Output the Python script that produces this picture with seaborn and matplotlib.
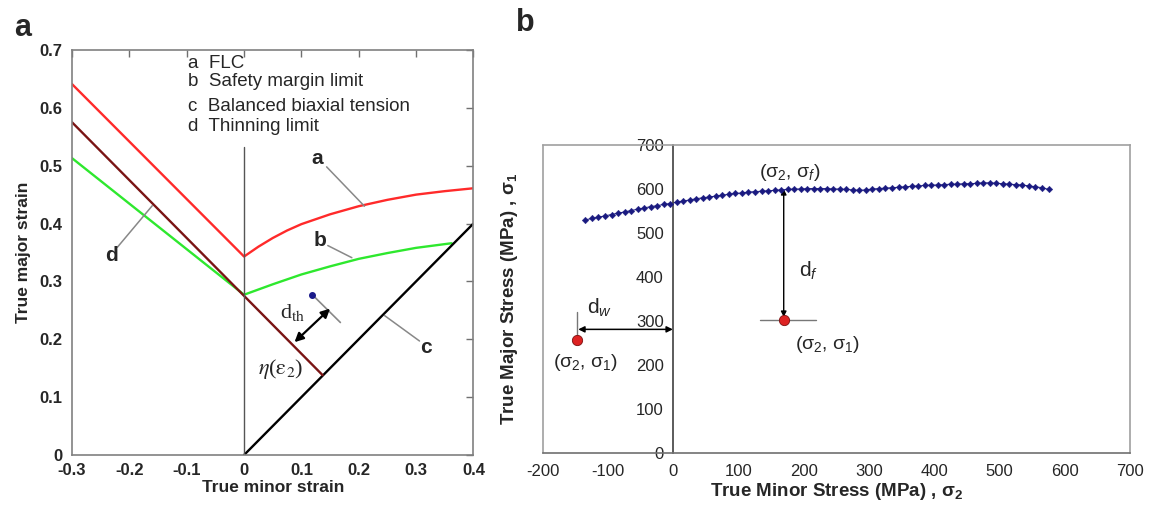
import matplotlib
matplotlib.use("Agg")
import matplotlib.pyplot as plt
import seaborn as sns
import pandas as pd

# ---- panel a: forming limit curves ----
flc_x = [-0.3, 0.0, 0.025, 0.05, 0.075, 0.1, 0.15, 0.2, 0.25, 0.3, 0.35, 0.4]
flc_y = [0.641, 0.343, 0.360, 0.375, 0.388, 0.399, 0.416, 0.430, 0.441, 0.450, 0.456, 0.461]

safety_x = [-0.3, 0.0, 0.05, 0.1, 0.15, 0.2, 0.25, 0.3, 0.362]
safety_y = [0.513, 0.277, 0.295, 0.312, 0.326, 0.339, 0.349, 0.358, 0.366]

biaxial_x = [0.0, 0.4]
biaxial_y = [0.0, 0.4]

thin_x = [-0.3, 0.0, 0.137]
thin_y = [0.575, 0.275, 0.138]

point_a = (0.119, 0.277)

legend_lines = ["a  FLC", "b  Safety margin limit",
                "c  Balanced biaxial tension", "d  Thinning limit"]
legend_y = [0.676, 0.645, 0.603, 0.568]

# ---- panel b: stress path ----
sig2 = [-135, -125, -115, -105, -95, -85, -75, -65, -55, -45, -35, -25, -15, -5,
        5, 15, 25, 35, 45, 55, 65, 75, 85, 95, 105, 115, 125, 135, 145, 155,
        165, 175, 185, 195, 205, 215, 225, 235, 245, 255, 265, 275, 285, 295,
        305, 315, 325, 335, 345, 355, 365, 375, 385, 395, 405, 415, 425, 435,
        445, 455, 465, 475, 485, 495, 505, 515, 525, 535, 545, 555, 565, 575]
sig1 = [530, 533, 536, 539, 542, 545, 548, 551, 554, 557, 560, 562, 565, 567,
        570, 573, 575, 578, 580, 582, 584, 586, 588, 590, 591, 593, 594, 595, 596, 597,
        598, 599, 600, 600, 601, 601, 601, 601, 600, 600, 599, 598, 597, 598,
        600, 601, 602, 603, 604, 605, 606, 607, 608, 609, 609, 610, 611, 611,
        612, 612, 613, 614, 614, 613, 612, 611, 610, 609, 607, 605, 603, 599]

red_x = [-148, 169]
red_y = [257, 302]

df_a = pd.concat([
    pd.DataFrame({"x": flc_x, "y": flc_y, "curve": "a"}),
    pd.DataFrame({"x": safety_x, "y": safety_y, "curve": "b"}),
    pd.DataFrame({"x": biaxial_x, "y": biaxial_y, "curve": "c"}),
    pd.DataFrame({"x": thin_x, "y": thin_y, "curve": "d"}),
])
df_b = pd.DataFrame({"s2": sig2, "s1": sig1})
df_red = pd.DataFrame({"s2": red_x, "s1": red_y})

sns.set_style("white")
plt.rcParams["font.family"] = ["Liberation Sans", "DejaVu Sans"]
plt.rcParams["axes.unicode_minus"] = False
plt.rcParams["mathtext.fontset"] = "custom"
plt.rcParams["mathtext.rm"] = "Liberation Sans"
plt.rcParams["mathtext.it"] = "Liberation Sans:italic"
plt.rcParams["mathtext.bf"] = "Liberation Sans:bold"

fig = plt.figure(figsize=(11.51, 5.07), dpi=100)
ax = fig.add_axes([0.0626, 0.1026, 0.3487, 0.7988])
ax2 = fig.add_axes([0.4718, 0.1065, 0.5100, 0.6075])

# ----- panel a -----
colors = {"a": "#ff2a2a", "b": "#2ee82e", "c": "black", "d": "#7a1414"}
sns.lineplot(data=df_a, x="x", y="y", hue="curve", palette=colors, sort=False,
             estimator=None, linewidth=1.7, legend=False, ax=ax)
ax.plot([0, 0], [0, 0.532], color="#555555", lw=1)
ax.scatter([point_a[0]], [point_a[1]], s=16, color="#1a1a8a", zorder=5)
ax.plot([0.119, 0.168], [0.277, 0.229], color="#888888", lw=1.2)
ax.annotate("", xy=(0.088, 0.195), xytext=(0.150, 0.253),
            arrowprops=dict(arrowstyle="<|-|>", color="black", lw=1.6,
                            mutation_scale=13, shrinkA=0, shrinkB=0))
ax.text(0.085, 0.246, r"d$_{\mathrm{th}}$", fontsize=16, ha="center", va="center",
        family="Liberation Serif", math_fontfamily="stix")
ax.text(0.063, 0.148, r"$\eta$($\mathrm{\varepsilon}_2$)", fontsize=16,
        ha="center", va="center", family="Liberation Serif", math_fontfamily="stix")

for lab, (tx, ty), seg in [("a", (0.127, 0.513), [(0.144, 0.498), (0.21, 0.430)]),
                           ("b", (0.132, 0.371), [(0.146, 0.362), (0.188, 0.341)]),
                           ("c", (0.318, 0.185), [(0.306, 0.197), (0.245, 0.241)]),
                           ("d", (-0.232, 0.345), [(-0.221, 0.359), (-0.160, 0.431)])]:
    ax.text(tx, ty, lab, fontsize=15, fontweight="bold", ha="center", va="center")
    ax.plot([seg[0][0], seg[1][0]], [seg[0][1], seg[1][1]], color="#888888", lw=1.1)

for txt, yy in zip(legend_lines, legend_y):
    ax.text(-0.097, yy, txt, fontsize=13.5, ha="left", va="center")

ax.set_xlim(-0.3, 0.4)
ax.set_ylim(0, 0.7)
ax.set_xticks([-0.3, -0.2, -0.1, 0, 0.1, 0.2, 0.3, 0.4])
ax.set_xticklabels(["-0.3", "-0.2", "-0.1", "0", "0.1", "0.2", "0.3", "0.4"])
ax.set_yticks([0, 0.1, 0.2, 0.3, 0.4, 0.5, 0.6, 0.7])
ax.set_yticklabels(["0", "0.1", "0.2", "0.3", "0.4", "0.5", "0.6", "0.7"])
ax.tick_params(direction="in", length=5, width=1, color="#707070",
               top=True, right=True, labelsize=12, pad=7)
ax.tick_params(axis="x", pad=6)
for lbl in ax.get_xticklabels() + ax.get_yticklabels():
    lbl.set_fontweight("bold")
for sp in ax.spines.values():
    sp.set_color("#808080")
    sp.set_linewidth(1.2)
ax.set_xlabel("True minor strain", fontsize=12.5, fontweight="bold", labelpad=1)
ax.set_ylabel("True major strain", fontsize=12.5, fontweight="bold", labelpad=6)

# ----- panel b -----
sns.lineplot(data=df_b, x="s2", y="s1", color="#1a1a80", linewidth=0.7, ax=ax2)
sns.scatterplot(data=df_b, x="s2", y="s1", marker="D", s=11, color="#1a1a80",
                edgecolor="#1a1a80", linewidth=0.3, ax=ax2, zorder=4)
sns.scatterplot(data=df_red, x="s2", y="s1", s=55, color="#dd2222",
                edgecolor="#7a1010", linewidth=0.6, ax=ax2, zorder=6)

ax2.plot([-148, -148], [257, 320], color="#777777", lw=1)
ax2.plot([133, 218], [302, 302], color="#777777", lw=1)
ax2.annotate("", xy=(-146, 281), xytext=(-1, 281),
             arrowprops=dict(arrowstyle="<|-|>", color="black", lw=1.1,
                             mutation_scale=9, shrinkA=0, shrinkB=0))
ax2.annotate("", xy=(169, 600), xytext=(169, 309),
             arrowprops=dict(arrowstyle="<|-|>", color="black", lw=1.0,
                             mutation_scale=8, shrinkA=0, shrinkB=0))

sg2 = r"$\mathregular{\sigma_2}$"
ax2.text(178, 638, "(" + sg2 + r", $\mathregular{\sigma_{\mathit{f}}}$)", fontsize=14,
         ha="center", va="center")
ax2.text(207, 415, r"d$_{\mathit{f}}$", fontsize=15, ha="center", va="center")
ax2.text(-113, 330, r"d$_{\mathit{w}}$", fontsize=15, ha="center", va="center")
ax2.text(-135, 205, "(" + sg2 + r", $\mathregular{\sigma_1}$)", fontsize=14,
         ha="center", va="center")
ax2.text(236, 247, "(" + sg2 + r", $\mathregular{\sigma_1}$)", fontsize=14,
         ha="center", va="center")

ax2.set_xlim(-200, 700)
ax2.set_ylim(0, 700)
ax2.set_xticks(range(-200, 701, 100))
ax2.set_yticks(range(0, 701, 100))
ax2.spines["left"].set_position(("data", 0))
ax2.spines["left"].set_color("#404040")
ax2.spines["bottom"].set_color("#707070")
ax2.spines["top"].set_color("#a0a0a0")
ax2.spines["right"].set_color("#a0a0a0")
for sp in ax2.spines.values():
    sp.set_linewidth(1.2)
ax2.axvline(-200, color="#a0a0a0", lw=1.2, clip_on=False)
ax2.tick_params(axis="both", direction="out", length=5, width=1, color="#505050",
                labelsize=12, pad=3)
ax2.tick_params(axis="y", pad=2)
ax2.set_xlabel(r"True Minor Stress (MPa) , $\mathregular{\sigma_2}$",
               fontsize=13.5, fontweight="bold", labelpad=1)
ax2.set_ylabel(r"True Major Stress (MPa) , $\mathregular{\sigma_1}$",
               fontsize=13.5, fontweight="bold", labelpad=0)
ax2.yaxis.set_label_coords(-0.04, 0.5)

fig.text(0.012, 0.945, "a", fontsize=22, fontweight="bold", va="center")
fig.text(0.448, 0.955, "b", fontsize=22, fontweight="bold", va="center")

fig.savefig("out.png", dpi=100)
plt.close(fig)
